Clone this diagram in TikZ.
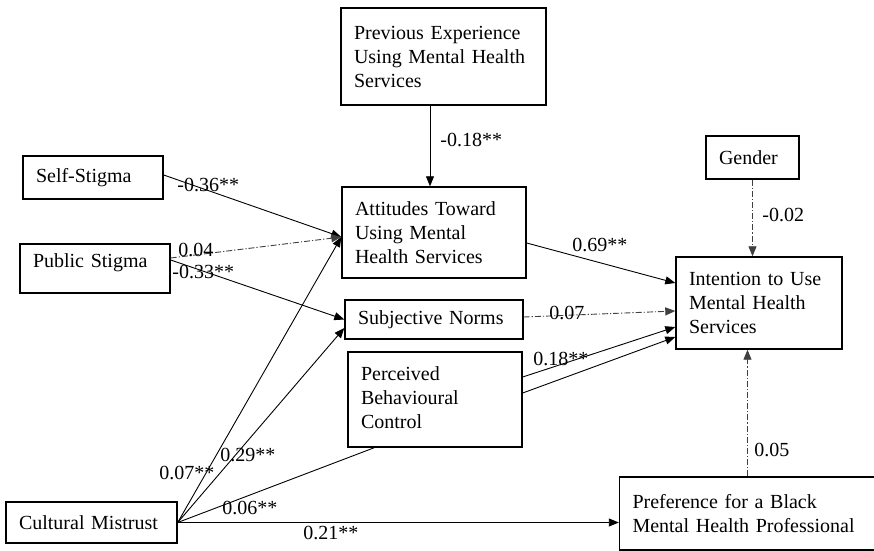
\documentclass[tikz,border=0pt]{standalone}
\usepackage{fontspec}
\setmainfont{Liberation Serif}
\usetikzlibrary{arrows.meta}

\begin{document}
\begin{tikzpicture}[x=0.5pt,y=-0.5pt,font=\fontsize{10}{12}\selectfont,
  var/.style={draw,line width=0.7pt,align=left,inner xsep=6.5pt,inner ysep=0pt},
  link/.style={line width=0.45pt,-{Triangle[length=5pt,width=4pt]}},
  ns/.style={link,black!75,dash pattern=on 3pt off 1pt on 0.6pt off 1pt},
  coef/.style={anchor=west,inner sep=0pt}]
  \useasboundingbox (0,0) rectangle (874,551);
  \node[var,text width=89.5pt,minimum height=48.5pt] (prev) at (443.5,56.5)
    {Previous Experience\\Using Mental Health\\Services};
  \node[var,text width=57pt,minimum height=21.5pt] (self) at (93,177.5) {Self-Stigma};
  \node[var,text width=62pt,minimum height=24.5pt,text depth=8pt] (pub) at (95,268.5) {Public Stigma};
  \node[var,text width=79pt,minimum height=45.5pt] (att) at (434,232.5)
    {Attitudes Toward\\Using Mental\\Health Services};
  \node[var,text width=76pt,minimum height=19.5pt] (sn) at (434,319.5) {Subjective Norms};
  \node[var,text width=74pt,minimum height=47.5pt] (pbc) at (435,399.5)
    {Perceived\\Behavioural\\Control\vphantom{g}\\[-4pt]};
  \node[var,text width=72.5pt,minimum height=20.5pt] (cm) at (91.5,522.5) {Cultural Mistrust};
  \node[var,text width=33.5pt,minimum height=21.5pt] (gen) at (752.5,157.5) {Gender};
  \node[var,text width=70pt,minimum height=46pt] (int) at (759,303)
    {Intention to Use\\Mental Health\\Services};
  \node[var,text width=115pt,minimum height=36.5pt] (pref) at (747.5,513.5)
    {Preference for a Black\\Mental Health Professional};

  \coordinate (attin) at ([yshift=-2.25pt]att.west);
  \coordinate (atttop) at ([xshift=-2pt]att.north);
  \draw[link] (prev.south -| atttop) -- (atttop);
  \draw[link] ([yshift=1.25pt]self.east) -- (attin);
  \draw[ns] ([yshift=5.25pt]pub.east) -- (attin);
  \draw[link] ([yshift=4.25pt]pub.east) -- (sn.west);
  \draw[link] (cm.east) -- (attin);
  \draw[link] (cm.east) -- ([yshift=-4.25pt]sn.west);
  \draw[line width=0.45pt] (cm.east) -- ([xshift=13.5pt]pbc.south west);
  \draw[link] (cm.east) -- (cm.east -| pref.west);
  \draw[link] ([yshift=-5.25pt]att.east) -- ([yshift=10pt]int.west);
  \draw[ns] ([yshift=1.25pt]sn.east) -- ([yshift=-4pt]int.west);
  \draw[link] ([yshift=11.25pt]pbc.east) -- ([yshift=-12pt]int.west);
  \draw[link] ([yshift=3.25pt]pbc.east) -- ([yshift=-17pt]int.west);
  \draw[ns] (gen.south) -- (gen.south |- int.north);
  \draw[ns] (pref.north) -- (pref.north |- int.south);

  \node[coef] (c1) at (440,140) {-0.18**};
  \node[coef] (c2) at (177,185) {-0.36**};
  \node[coef] (c3) at (178,250) {0.04};
  \node[coef] (c4) at (172,272) {-0.33**};
  \node[coef] (c5) at (159,473) {0.07**};
  \node[coef] (c6) at (220,455) {0.29**};
  \node[coef] (c7) at (222,508) {0.06**};
  \node[coef] (c8) at (303,533) {0.21**};
  \node[coef] (c9) at (572,245) {0.69**};
  \node[coef] (c10) at (549,313) {0.07};
  \node[coef] (c11) at (533,359) {0.18**};
  \node[coef] (c12) at (762,215) {-0.02};
  \node[coef] (c13) at (754,450) {0.05};
\end{tikzpicture}
\end{document}
